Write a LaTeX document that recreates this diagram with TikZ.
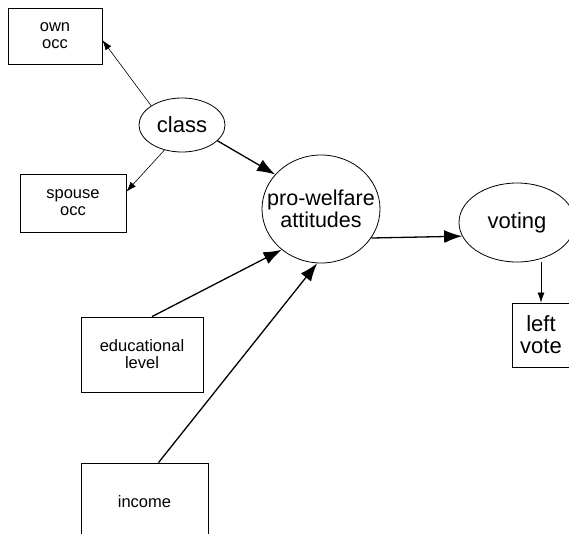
\documentclass[tikz,border=0pt]{standalone}
\usepackage{fontspec}
\setmainfont{Liberation Sans}
\usetikzlibrary{arrows.meta,shapes.geometric}

\begin{document}
\begin{tikzpicture}[x=1pt,y=-1pt,
	var_box/.style={rectangle,draw,line width=0.8pt,inner sep=0pt,align=center,font=\fontsize{16.5}{17}\selectfont},
	latent_node/.style={ellipse,draw,line width=0.8pt,inner sep=0pt,align=center,font=\fontsize{22}{22}\selectfont},
	thin_arrow/.style={-{Latex[length=10pt,width=7pt]},line width=0.6pt},
	thick_arrow/.style={-{Latex[length=18pt,width=13pt]},line width=1.3pt}]
	\useasboundingbox (0,0) rectangle (569,533);
	\clip (0,0) rectangle (569,533);

	\node[var_box,minimum width=94,minimum height=56] (own) at (55,36) {own\\occ};
	\node[var_box,minimum width=106,minimum height=58] (spouse) at (73,203) {spouse\\occ};
	\node[var_box,minimum width=122,minimum height=75] (edu) at (142,354.5) {educational\\level};
	\node[var_box,minimum width=127,minimum height=78] (income) at (144.5,502) {income};
	\node[var_box,minimum width=58,minimum height=64,font=\fontsize{22}{22}\selectfont] (vote) at (541,335) {left\\vote};

	\node[latent_node,minimum width=86,minimum height=54] (class) at (182,125) {class};
	\node[latent_node,minimum width=118,minimum height=108,inner xsep=-13pt,font=\fontsize{21.5}{22}\selectfont] (pro) at (321,209) {pro-welfare\\attitudes};
	\node[latent_node,minimum width=116,minimum height=79] (voting) at (517,222.5) {voting};

	\draw[thin_arrow] (class.148) -- (own.-5);
	\draw[thin_arrow] (class.235) -- (spouse.12);
	\draw[thick_arrow] (class.-24) -- (pro.143);
	\draw[thick_arrow] ([xshift=10pt]edu.north) -- (pro.226);
	\draw[thick_arrow] ([xshift=14pt]income.north) -- (pro.266);
	\draw[thick_arrow] (pro.-30) -- (voting.194);
	\draw[thin_arrow] (voting.south -| vote.north) -- (vote.north);
\end{tikzpicture}
\end{document}
